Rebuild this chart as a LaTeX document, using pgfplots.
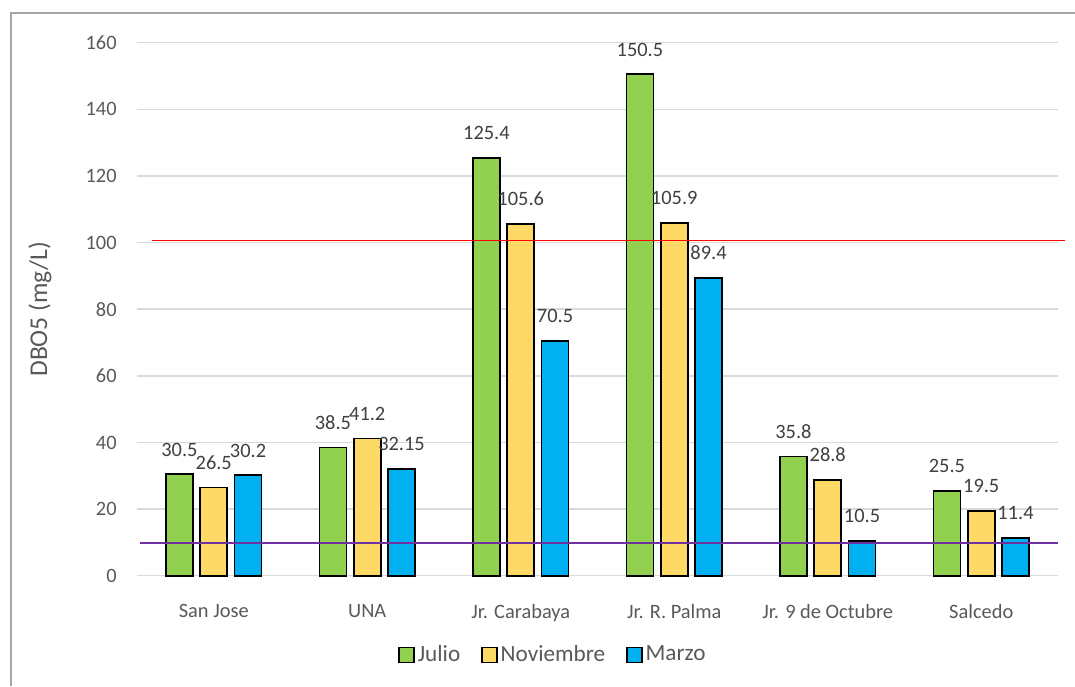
\documentclass[border=0pt]{standalone}
\usepackage{fontspec}
\setmainfont{Carlito}
\usepackage{pgfplots}
\pgfplotsset{compat=1.18}
\definecolor{cgreen}{HTML}{92D050}
\definecolor{cyellow}{HTML}{FFD966}
\definecolor{cblue}{HTML}{00B0F0}
\definecolor{txt}{HTML}{595959}
\definecolor{gridc}{HTML}{D9D9D9}
\definecolor{cpurple}{HTML}{7030A0}
\definecolor{cred}{HTML}{FF0000}
\pgfplotsset{mylegend/.style={legend image code/.code={\draw[#1, line width=0.8pt] (0pt,-3.7pt) rectangle (7.4pt,3.7pt);}}}
\begin{document}
\begin{tikzpicture}
\useasboundingbox (0,0) rectangle (537.5pt,343pt);
\draw[color=black!35, line width=0.75pt] (5.5pt,0) -- (5.5pt,336.5pt) -- (537.5pt,336.5pt);
\begin{axis}[
 at={(68.5pt,55.15pt)}, anchor=south west,
 scale only axis, width=460.5pt, height=266.5pt,
 ybar=3.65pt, bar width=13.5pt,
 xmin=-0.5, xmax=5.5, ymin=0, ymax=160,
 xtick={0,...,5},
 xticklabels={San Jose, UNA, Jr. Carabaya, Jr. R. Palma, Jr. 9 de Octubre, Salcedo},
 ytick={0,20,...,160},
 ymajorgrids, major grid style={gridc, line width=0.7pt},
 axis line style={draw=none}, tick style={draw=none},
 /pgf/number format/assume math mode=true,
 ticklabel style={font=\fontsize{10.2}{12}\selectfont, text=txt},
 yticklabel style={inner sep=0pt, xshift=-10pt},
 xticklabel style={inner sep=0pt, yshift=-10pt},
 ylabel={DBO5 (mg/L)},
 every axis y label/.style={at={(axis description cs:-0.1053,0.5)}, rotate=90, anchor=center, font=\fontsize{12.8}{15}\selectfont, text=txt},
 nodes near coords,
 every node near coord/.append style={font=\fontsize{10.2}{12}\selectfont, text=black!75, inner sep=0pt, yshift=8.5pt},
 clip=false,
 legend columns=3,
 legend style={at={(axis description cs:0.4522,-0.1488)}, anchor=center, draw=none, fill=none,
   font=\fontsize{11.6}{14}\selectfont, text=txt, inner sep=0pt,
   nodes={inner sep=1.5pt},
   /tikz/every even column/.append style={column sep=9pt}},
]
\addplot[draw=black, line width=0.9pt, fill=cgreen, mylegend] coordinates {(0,30.5) (1,38.5) (2,125.4) (3,150.5) (4,35.8) (5,25.5)};
\addplot[draw=black, line width=0.9pt, fill=cyellow, mylegend] coordinates {(0,26.5) (1,41.2) (2,105.6) (3,105.9) (4,28.8) (5,19.5)};
\addplot[draw=black, line width=0.9pt, fill=cblue, mylegend] coordinates {(0,30.2) (1,32.15) (2,70.5) (3,89.4) (4,10.5) (5,11.4)};
\legend{Julio, Noviembre, Marzo}
\end{axis}
\begin{axis}[
 at={(68.5pt,55.15pt)}, anchor=south west,
 scale only axis, width=460.5pt, height=266.5pt,
 xmin=-0.5, xmax=5.5, ymin=0, ymax=160,
 hide axis, clip=false]
\addplot[cred, line width=0.75pt] coordinates {(-0.402,100.6) (5.545,100.6)};
\addplot[cpurple, line width=0.75pt] coordinates {(-0.48,9.8) (5.5,9.8)};
\end{axis}
\end{tikzpicture}
\end{document}
